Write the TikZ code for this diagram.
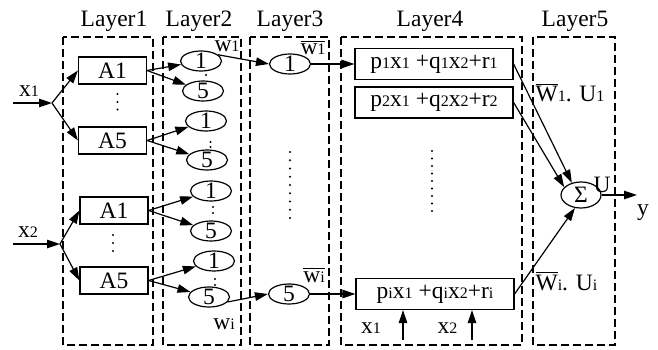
\documentclass[tikz,border=0pt]{standalone}
\usepackage{fontspec}
\setmainfont{Liberation Serif}
\usetikzlibrary{arrows.meta,shapes.geometric}
\newcommand{\sbs}[1]{{\fontsize{16}{18}\selectfont #1}}
\newcommand{\ovl}[1]{\leavevmode\vbox{\hrule height 1pt\kern2pt\hbox{#1}}}
\newcommand{\ctr}[1]{\raisebox{-7.9pt}[0pt][0pt]{#1}}
\begin{document}
\begin{tikzpicture}[x=1pt,y=-1pt, line width=1.2pt,
  every node/.style={font=\fontsize{23.5}{27}\selectfont, inner sep=0pt},
  arr/.style={-{Triangle[length=13pt,width=8.5pt]}},
  dbox/.style={dash pattern=on 8pt off 4pt, line width=1.1pt},
  abox/.style={draw, rectangle, minimum width=68pt, minimum height=27pt},
  ell/.style={draw, ellipse, minimum width=41pt, minimum height=20pt},
  fbox/.style={draw, rectangle, minimum width=158pt, minimum height=31pt},
  lbl/.style={anchor=base}
]
\useasboundingbox (0,0) rectangle (658,350);

% layer frames
\draw[dbox] (63,37) rectangle (153,345);
\draw[dbox] (163,37) rectangle (241,345);
\draw[dbox] (250,37) rectangle (329,345);
\draw[dbox] (341,37) rectangle (522,345);
\draw[dbox] (533,37) rectangle (615,345);

\node[lbl] (L1) at (114,27) {Layer1};
\node[lbl] (L2) at (199,27) {Layer2};
\node[lbl] (L3) at (290,27) {Layer3};
\node[lbl] (L4) at (430,27) {Layer4};
\node[lbl] (L5) at (575,27) {Layer5};

% layer 1
\node[abox] (A1a) at (112.5,70.5) {A1};
\node[abox] (A5a) at (112.5,140.5) {A5};
\node[abox] (A1b) at (114,210.5) {A1};
\node[abox] (A5b) at (114,280.5) {A5};
\foreach \yy in {94,102,109.5} \fill (117.5,\yy) circle (1.2pt);
\foreach \yy in {235,243,251} \fill (113,\yy) circle (1.2pt);

% inputs
\coordinate (x1s) at (13,103);
\coordinate (x1b) at (52,103);
\coordinate (x2s) at (13,244);
\coordinate (x2b) at (60,244);
\node[lbl] (x1l) at (29,97) {x\sbs{1}};
\node[lbl] (x2l) at (28,237) {x\sbs{2}};
\draw[arr] (x1s) -- (x1b);
\draw[arr] (x1b) -- (A1a.west);
\draw[arr] (x1b) -- (A5a.west);
\draw[arr] (x2s) -- (x2b);
\draw[arr] (x2b) -- (A1b.west);
\draw[arr] (x2b) -- (A5b.west);

% layer 2
\node[ell] (E1a) at (201,61) {\ctr{1}};
\node[ell] (E5a) at (203,91) {\ctr{5}};
\node[ell] (E1b) at (206,121) {\ctr{1}};
\node[ell] (E5b) at (207,160) {\ctr{5}};
\node[ell] (E1c) at (211,191) {\ctr{1}};
\node[ell] (E5c) at (211,231) {\ctr{5}};
\node[ell] (E1d) at (214,261) {\ctr{1}};
\node[ell] (E5d) at (209,297) {\ctr{5}};
\fill (206,75) circle (1.2pt);
\foreach \yy in {142,147} \fill (210.5,\yy) circle (1.2pt);
\foreach \yy in {207,213} \fill (213,\yy) circle (1.2pt);
\foreach \yy in {279,285} \fill (215,\yy) circle (1.2pt);

\draw[arr] (A1a.east) -- (E1a);
\draw[arr] (A1a.east) -- (E5a);
\draw[arr] (A5a.east) -- (E1b);
\draw[arr] (A5a.east) -- (E5b);
\draw[arr] (A1b.east) -- (E1c);
\draw[arr] (A1b.east) -- (E5c);
\draw[arr] (A5b.east) -- (E1d);
\draw[arr] (A5b.east) -- (E5d);

% layer 3
\node[ell] (N1) at (290,64) {\ctr{1}};
\node[ell] (N5) at (289,294) {\ctr{5}};
\draw[arr] (E1a.20) -- (N1.west);
\draw[arr] (E5d.-15) -- (N5.west);
\node[lbl] (w1) at (227,52) {w\sbs{1}};
\node[lbl] (wi) at (224,329) {w\sbs{i}};
\node[lbl] (wb1) at (313,55) {\ovl{w\sbs{1}}};
\node[lbl] (wbi) at (314,282) {\ovl{w\sbs{i}}};
\foreach \k in {0,...,8} \fill (290,152+8.25*\k) circle (1.2pt);

% layer 4
\node[fbox] (B1) at (434,64) {p\sbs{1}x\sbs{1} +q\sbs{1}x\sbs{2}+r\sbs{1}};
\node[fbox] (B2) at (434,102.5) {p\sbs{2}x\sbs{1} +q\sbs{2}x\sbs{2}+r\sbs{2}};
\node[fbox] (Bi) at (435,294) {p\sbs{i}x\sbs{1} +q\sbs{i}x\sbs{2}+r\sbs{i}};
\foreach \k in {0,...,8} \fill (432,151+7.5*\k) circle (1.2pt);
\draw[arr] (N1.east) -- (B1.west);
\draw[arr] (N5.east) -- (Bi.west);
\coordinate (in1) at (403,340);
\coordinate (in2) at (472,340);
\draw[arr] (in1) -- (in1 |- Bi.south);
\draw[arr] (in2) -- (in2 |- Bi.south);
\node[lbl] (bx1) at (371,333) {x\sbs{1}};
\node[lbl] (bx2) at (447.5,333) {x\sbs{2}};

% layer 5
\node[draw, ellipse, minimum width=40pt, minimum height=26pt] (S) at (581,195) {\raisebox{-7.8pt}[0pt][0pt]{Σ}};
\draw[arr] (B1.east) -- (S.127);
\draw[arr] (B2.east) -- (S.155);
\draw[arr] (Bi.east) -- (S.-115);
\coordinate (yend) at (637,195);
\draw[arr] (S.east) -- (yend);
\node[lbl] (U) at (602,192) {U};
\node[lbl] (y) at (643,215) {y};
\node[anchor=base west] (WU1) at (535,102) {\ovl{W}\sbs{1}. U\sbs{1}};
\node[anchor=base west] (WUi) at (535,290) {\ovl{W}\sbs{i}. U\sbs{i}};
\end{tikzpicture}
\end{document}
